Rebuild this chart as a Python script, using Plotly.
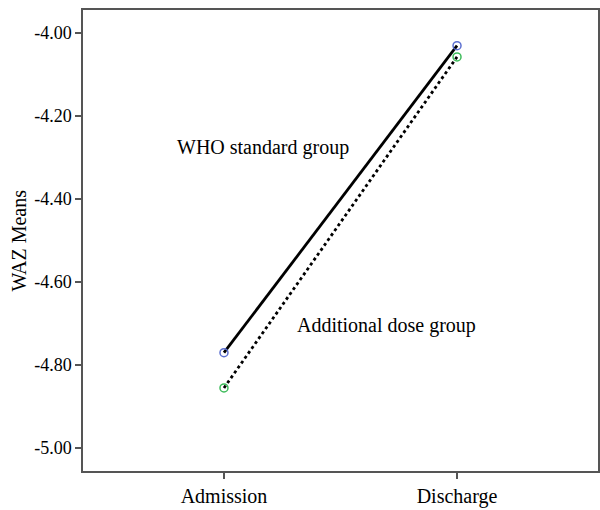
import plotly.graph_objects as go

categories = ["Admission", "Discharge"]
who_standard = [-4.77, -4.031]
additional_dose = [-4.855, -4.058]
y_ticks = [-5.00, -4.80, -4.60, -4.40, -4.20, -4.00]

fig = go.Figure()
fig.add_trace(go.Scatter(
    x=[0, 1], y=who_standard, mode="lines+markers", name="WHO standard group",
    line=dict(color="black", width=2.8),
    marker=dict(symbol="circle-open", size=8, color="#5b6fd0", line=dict(width=1.5)),
))
fig.add_trace(go.Scatter(
    x=[0, 1], y=additional_dose, mode="lines+markers", name="Additional dose group",
    line=dict(color="black", width=2.8, dash="dot"),
    marker=dict(symbol="circle-open", size=8, color="#3dbb5a", line=dict(width=1.5)),
))

fig.add_annotation(x=-0.21, y=-4.275, text="WHO standard group", showarrow=False,
                   xanchor="left", yanchor="middle", font=dict(size=20, color="black"))
fig.add_annotation(x=0.305, y=-4.705, text="Additional dose group", showarrow=False,
                   xanchor="left", yanchor="middle", font=dict(size=20, color="black"))
fig.add_annotation(xref="paper", yref="paper", x=-0.126, y=0.5, text="WAZ Means",
                   textangle=-90, showarrow=False, xanchor="center", yanchor="middle",
                   font=dict(size=20, color="black"))

fig.update_layout(
    width=600, height=510,
    margin=dict(l=83, r=2, t=10, b=39, autoexpand=False),
    paper_bgcolor="white", plot_bgcolor="white",
    showlegend=False,
    font=dict(family="Liberation Serif", size=20, color="black"),
    xaxis=dict(
        range=[-0.605, 1.605], tickvals=[0, 1], ticktext=categories,
        showgrid=False, zeroline=False, showline=True, mirror=True,
        linecolor="#555555", linewidth=1.5, ticks="outside", ticklen=6,
        tickcolor="#555555", tickwidth=1.5, tickfont=dict(size=20),
    ),
    yaxis=dict(
        range=[-5.055, -3.945], tickvals=y_ticks,
        ticktext=[f"{v:.2f}" for v in y_ticks],
        showgrid=False, zeroline=False, showline=True, mirror=True,
        linecolor="#555555", linewidth=1.5, ticks="outside", ticklen=6,
        tickcolor="#555555", tickwidth=1.5, tickfont=dict(size=18),
    ),
)

fig.write_html("out.html", config={"displayModeBar": False},
               post_script="document.body.style.margin='0';")
